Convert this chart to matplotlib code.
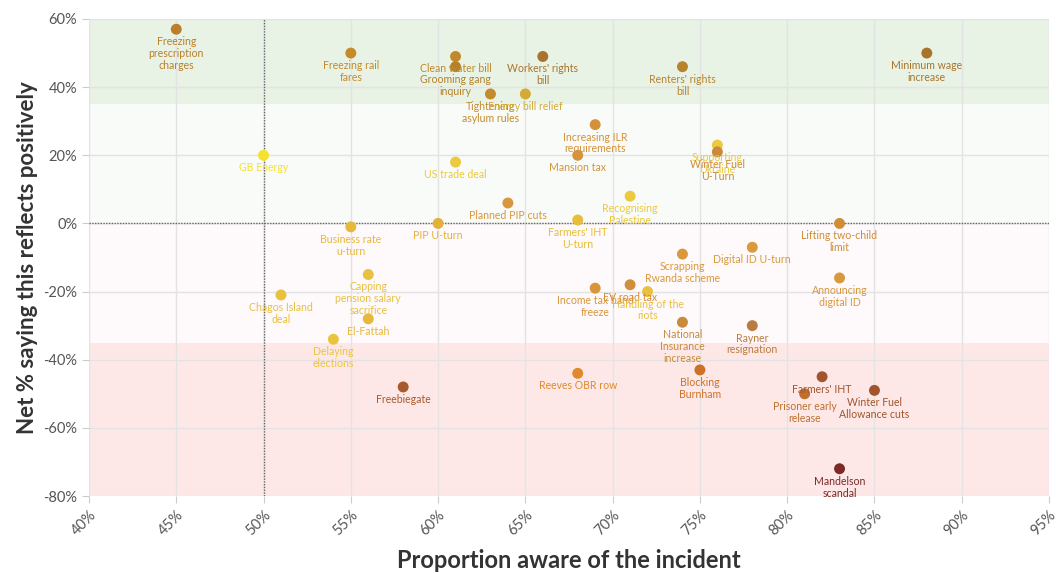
import matplotlib
matplotlib.use("Agg")
import matplotlib.pyplot as plt
from matplotlib.ticker import FuncFormatter

# Data
labels = [
    "Freezing\nprescription\ncharges", "Freezing rail\nfares", "GB Energy",
    "Clean water bill", "Grooming gang\ninquiry", "Workers' rights\nbill",
    "Renters' rights\nbill", "Tightening\nasylum rules", "Energy bill relief",
    "Increasing ILR\nrequirements", "Mansion tax", "US trade deal",
    "Supporting\nUkraine", "Winter Fuel\nU-Turn", "Minimum wage\nincrease",
    "Business rate\nu-turn", "Capping\npension salary\nsacrifice", "Chagos Island\ndeal",
    "El-Fattah", "Delaying\nelections", "Planned PIP cuts", "PIP U-turn",
    "Farmers' IHT\nU-turn", "Recognising\nPalestine", "Scrapping\nRwanda scheme",
    "Income tax band\nfreeze", "EV road tax", "Handling of the\nriots",
    "National\nInsurance\nincrease", "Digital ID U-turn", "Lifting two-child\nlimit",
    "Announcing\ndigital ID", "Rayner\nresignation", "Freebiegate", "Reeves OBR row",
    "Blocking\nBurnham", "Farmers' IHT", "Prisoner early\nrelease",
    "Winter Fuel\nAllowance cuts", "Mandelson\nscandal",
]
aware = [45, 55, 50, 61, 61, 66, 74, 63, 65, 69, 68, 61, 76, 76, 88,
         55, 56, 51, 56, 54, 64, 60, 68, 71, 74, 69, 71, 72, 74, 78, 83,
         83, 78, 58, 68, 75, 82, 81, 85, 83]
net_positive = [57, 50, 20, 49, 46, 49, 46, 38, 38, 29, 20, 18, 23, 21, 50,
                -1, -15, -21, -28, -34, 6, 0, 1, 8, -9, -19, -18, -20, -29, -7, 0,
                -16, -30, -48, -44, -43, -45, -50, -49, -72]
colors = [
    "#b97f2a", "#c58a2a", "#f5e22c", "#c08a2c", "#b58128", "#a8742c", "#b7832b",
    "#c48a2e", "#d2aa35", "#d5913a", "#d5943c", "#ebc940", "#ebc940", "#cc8a38",
    "#a8742c", "#e6b93c", "#e9c040", "#e9c040", "#e6b93c", "#ebc43e", "#d9963c",
    "#e3b13a", "#e6be3c", "#ebc940", "#d9983c", "#d8963c", "#d28e3a", "#e9c040",
    "#c98a3a", "#d89a3c", "#cf8e36", "#d8993c", "#b87c42", "#a85a2c", "#e08a2c",
    "#cc7228", "#a2552c", "#c0702e", "#a2552c", "#7b2a28",
]

plt.rcParams['font.family'] = ['Lato', 'DejaVu Sans']

fig = plt.figure(figsize=(10.56, 5.73), dpi=100)
ax = fig.add_axes([89 / 1056, 1 - 496 / 573, 960 / 1056, 477 / 573])

# background bands
ax.axhspan(35, 60, color="#e8f3e6", zorder=0, lw=0)
ax.axhspan(0, 35, color="#f8fbf7", zorder=0, lw=0)
ax.axhspan(-35, 0, color="#fef9fa", zorder=0, lw=0)
ax.axhspan(-80, -35, color="#fde8e7", zorder=0, lw=0)

ax.grid(True, color="#e3e3e3", lw=1, zorder=0.5)
ax.set_axisbelow(True)

ax.axvline(50, color="#666666", ls=(0, (1, 1)), lw=1, zorder=1)
ax.axhline(0, color="#666666", ls=(0, (1, 1)), lw=1, zorder=1)

ax.scatter(aware, net_positive, s=62, c=colors, zorder=3, lw=0)

for x, y, lab, col in zip(aware, net_positive, labels, colors):
    ax.annotate(lab, (x, y), xytext=(0, -5), textcoords="offset points",
                ha="center", va="top", fontsize=7.6, color=col,
                linespacing=1.1, zorder=4)

ax.set_xlim(40, 95)
ax.set_ylim(-80, 60)
ax.set_xticks(range(40, 96, 5))
ax.set_yticks(range(-80, 61, 20))
ax.xaxis.set_major_formatter(FuncFormatter(lambda v, p: f"{v:.0f}%"))
ax.yaxis.set_major_formatter(FuncFormatter(lambda v, p: f"{v:.0f}%"))

for s in ax.spines.values():
    s.set_visible(False)
ax.tick_params(axis="both", colors="#cccccc", labelcolor="#555555",
               labelsize=10.5, length=5)
plt.setp(ax.get_xticklabels(), rotation=45, ha="right", rotation_mode="anchor")

ax.set_xlabel("Proportion aware of the incident", fontsize=17, fontweight="bold",
              color="#333333", labelpad=8)
ax.set_ylabel("Net % saying this reflects positively", fontsize=16,
              fontweight="bold", color="#333333", labelpad=4)

fig.savefig("out.png", dpi=100)
